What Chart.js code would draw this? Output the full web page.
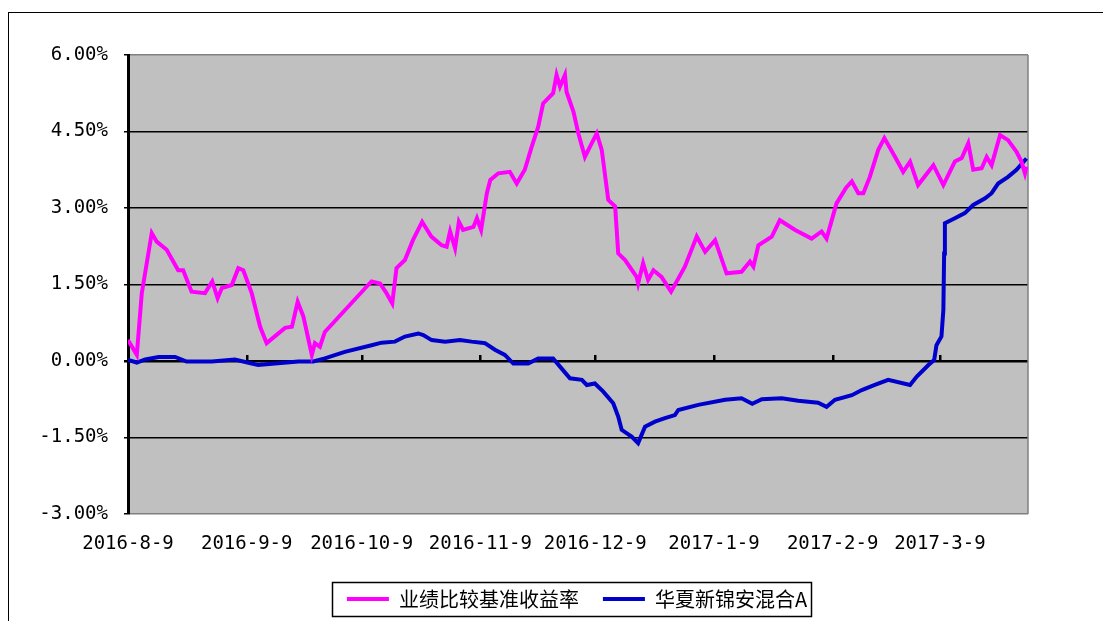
<!DOCTYPE html>
<html><head><meta charset="utf-8">
<script src="https://cdn.jsdelivr.net/npm/chart.js@4.4.1/dist/chart.umd.min.js"></script>
<style>html,body{margin:0;padding:0;background:#fff;overflow:hidden}#wrap{position:relative;width:1103px;height:621px}</style>
</head><body><div id="wrap"><canvas id="c" width="1103" height="621"></canvas></div>
<script>
const seriesNames = ['业绩比较基准收益率', '华夏新锦安混合A'];
const tickDays = [0, 31, 61, 92, 122, 153, 184, 212];
const tickLabels = ['2016-8-9', '2016-9-9', '2016-10-9', '2016-11-9', '2016-12-9', '2017-1-9', '2017-2-9', '2017-3-9'];
const yTicks = [-3, -1.5, 0, 1.5, 3, 4.5, 6];

const benchDays = [0,2.3,3.6,6.2,7.5,10.1,13.1,14.4,16.6,20.1,22.0,23.4,24.5,27.1,28.8,30.1,32.3,34.5,36.2,41.0,42.8,44.3,45.8,48.0,48.8,50.1,51.4,62.7,63.6,65.8,67.5,69.0,70.1,72.3,74.4,76.8,79.2,81.9,83.2,84.1,85.4,86.4,87.5,90.2,91.1,92.2,93.7,94.6,96.7,99.7,101.5,103.6,105.4,107.1,108.4,111.0,111.9,112.8,114.1,114.5,116.3,117.6,119.3,120.6,122.4,123.7,125.4,127.2,128.0,129.8,132.8,133.2,134.5,135.8,137.2,139.3,141.8,145.4,148.5,150.7,153.3,156.3,160.2,162.4,163.3,164.6,168.1,170.2,174.2,178.5,181.1,182.4,185.0,187.5,189.0,190.7,192.0,193.7,195.9,197.5,200.3,202.4,204.2,206.3,210.3,212.9,215.9,217.7,219.4,220.7,222.9,224.2,225.5,227.7,229.8,232.0,233.3,234.2,234.6];
const benchValues = [0.41,0.12,1.33,2.51,2.34,2.18,1.78,1.78,1.36,1.33,1.56,1.23,1.43,1.49,1.82,1.78,1.33,0.67,0.35,0.65,0.67,1.16,0.87,0.12,0.35,0.28,0.57,1.49,1.56,1.52,1.33,1.13,1.82,1.98,2.37,2.73,2.44,2.27,2.24,2.54,2.21,2.73,2.57,2.63,2.80,2.57,3.29,3.55,3.68,3.71,3.48,3.75,4.20,4.59,5.05,5.25,5.61,5.38,5.61,5.28,4.89,4.46,4.00,4.20,4.46,4.14,3.16,3.03,2.11,1.98,1.65,1.52,1.92,1.59,1.78,1.65,1.36,1.85,2.44,2.14,2.37,1.72,1.75,1.95,1.85,2.27,2.44,2.76,2.57,2.40,2.54,2.40,3.09,3.40,3.52,3.29,3.29,3.61,4.14,4.37,4.00,3.71,3.91,3.45,3.84,3.45,3.91,3.98,4.27,3.75,3.78,4.00,3.84,4.43,4.33,4.10,3.91,3.68,3.81];

const fundDays = [0,2.3,4.5,8.0,12.3,15.3,21.9,27.9,32.3,34.0,38.4,44.5,48.4,51.4,56.6,63.6,66.2,69.7,72.3,75.8,77.1,79.3,82.8,86.7,89.7,92.3,93.2,95.8,98.4,100.6,104.5,107.1,111.0,112.8,115.4,118.5,119.8,121.9,124.1,126.7,128.0,128.9,131.5,133.2,135.0,137.6,140.2,142.8,143.7,148.9,155.9,160.2,163.0,165.5,170.7,175.0,180.2,182.4,184.6,189.0,191.6,195.0,198.5,204.2,205.9,209.0,210.5,211.1,212.4,212.9,213.1,213.3,215.9,218.5,220.7,223.8,225.5,227.2,229.8,232.0,234.6];
const fundValues = [0.02,-0.03,0.03,0.08,0.08,-0.01,-0.01,0.03,-0.05,-0.08,-0.05,-0.01,-0.01,0.05,0.18,0.31,0.36,0.38,0.48,0.54,0.51,0.41,0.38,0.41,0.38,0.36,0.35,0.22,0.12,-0.05,-0.05,0.05,0.05,-0.11,-0.34,-0.37,-0.47,-0.44,-0.60,-0.83,-1.09,-1.35,-1.48,-1.61,-1.29,-1.19,-1.12,-1.06,-0.96,-0.86,-0.76,-0.73,-0.84,-0.75,-0.73,-0.78,-0.82,-0.90,-0.76,-0.67,-0.57,-0.47,-0.37,-0.47,-0.31,-0.08,0.02,0.31,0.48,1.00,2.11,2.70,2.80,2.90,3.06,3.19,3.29,3.48,3.61,3.75,3.97];

const toPoints = (xs, ys) => xs.map((x, i) => ({x: x, y: ys[i]}));

const decor = {
  id: 'decor',
  beforeDraw(chart) {
    const {ctx, chartArea: a} = chart;
    ctx.save();
    ctx.fillStyle = '#c0c0c0';
    ctx.fillRect(a.left, a.top, a.right - a.left, a.bottom - a.top);
    ctx.restore();
  },
  beforeDatasetsDraw(chart) {
    const {ctx, chartArea: a, scales} = chart;
    ctx.save();
    ctx.strokeStyle = '#808080';
    ctx.lineWidth = 1.5;
    ctx.beginPath();
    ctx.moveTo(a.right, a.top); ctx.lineTo(a.right, a.bottom);
    ctx.stroke();
    const y0 = scales.y.getPixelForValue(0);
    ctx.fillStyle = '#000';
    tickDays.forEach(d => {
      if (d === 0) return;
      const x = Math.round(scales.x.getPixelForValue(d));
      ctx.fillRect(x - 1, y0 - 6, 2.5, 6);
    });
    ctx.restore();
  },
  afterDraw(chart) {
    const {ctx} = chart;
    ctx.save();
    ctx.strokeStyle = '#000';
    ctx.lineWidth = 1;
    ctx.strokeRect(8.5, 12.5, 1300, 800);
    const hb = chart.legend.legendHitBoxes;
    if (hb && hb.length) {
      const first = hb[0], last = hb[hb.length - 1];
      const cy = first.top + first.height / 2;
      const l = first.left - 15, r = last.left + last.width + 4;
      ctx.lineWidth = 1.5;
      ctx.strokeRect(Math.round(l) + 0.5, Math.round(cy - 17) + 0.5, Math.round(r - l), 34);
    }
    ctx.restore();
  }
};

new Chart(document.getElementById('c'), {
  type: 'line',
  data: {
    datasets: [
      {label: seriesNames[0], data: toPoints(benchDays, benchValues), borderColor: '#ff00ff', backgroundColor: '#ff00ff', borderWidth: 4, pointRadius: 0, tension: 0},
      {label: seriesNames[1], data: toPoints(fundDays, fundValues), borderColor: '#0000cc', backgroundColor: '#0000cc', borderWidth: 4, pointRadius: 0, tension: 0}
    ]
  },
  options: {
    responsive: false,
    animation: false,
    events: [],
    layout: {padding: {left: 30, right: -21, top: 55, bottom: 2}},
    plugins: {
      tooltip: {enabled: false},
      legend: {
        position: 'bottom',
        align: 'center',
        labels: {
          boxWidth: 42,
          boxHeight: 4,
          padding: 24,
          color: '#000',
          font: {family: '"Noto Sans CJK SC", sans-serif', size: 20},
          generateLabels: (chart) => chart.data.datasets.map((ds, i) => ({
            text: ds.label, fillStyle: ds.borderColor, strokeStyle: ds.borderColor,
            lineWidth: 0, hidden: false, datasetIndex: i, fontColor: '#000'
          }))
        }
      }
    },
    scales: {
      x: {
        type: 'linear',
        min: 0,
        max: 235,
        afterBuildTicks: (s) => { s.ticks = tickDays.map(v => ({value: v})); },
        afterFit: (s) => { s.height = 51; },
        grid: {display: false, drawTicks: false},
        border: {display: false},
        ticks: {
          autoSkip: false, maxRotation: 0, padding: 19, color: '#000',
          font: {family: '"DejaVu Sans Mono", monospace', size: 19},
          callback: (v, i) => tickLabels[i]
        }
      },
      y: {
        min: -3,
        max: 6,
        afterBuildTicks: (s) => { s.ticks = yTicks.map(v => ({value: v})); },
        afterFit: (s) => { s.width = 98; },
        border: {display: true, color: '#000', width: 3},
        grid: {
          drawTicks: true,
          tickLength: 4,
          tickColor: '#000',
          color: (c) => (c.tick && (c.tick.value === 6 || c.tick.value === -3)) ? '#808080' : '#000',
          lineWidth: (c) => (c.tick && c.tick.value === 0) ? 2.5 : 1.5
        },
        ticks: {
          padding: 16, color: '#000',
          font: {family: '"DejaVu Sans Mono", monospace', size: 19},
          callback: (v) => Number(v).toFixed(2) + '%'
        }
      },
      spacer: {
        type: 'linear',
        position: 'right',
        display: true,
        min: 0,
        max: 1,
        afterFit: (s) => { s.width = 96; },
        grid: {display: false, drawTicks: false},
        border: {display: false},
        ticks: {display: false}
      }
    }
  },
  plugins: [decor]
});
</script>
</body></html>
